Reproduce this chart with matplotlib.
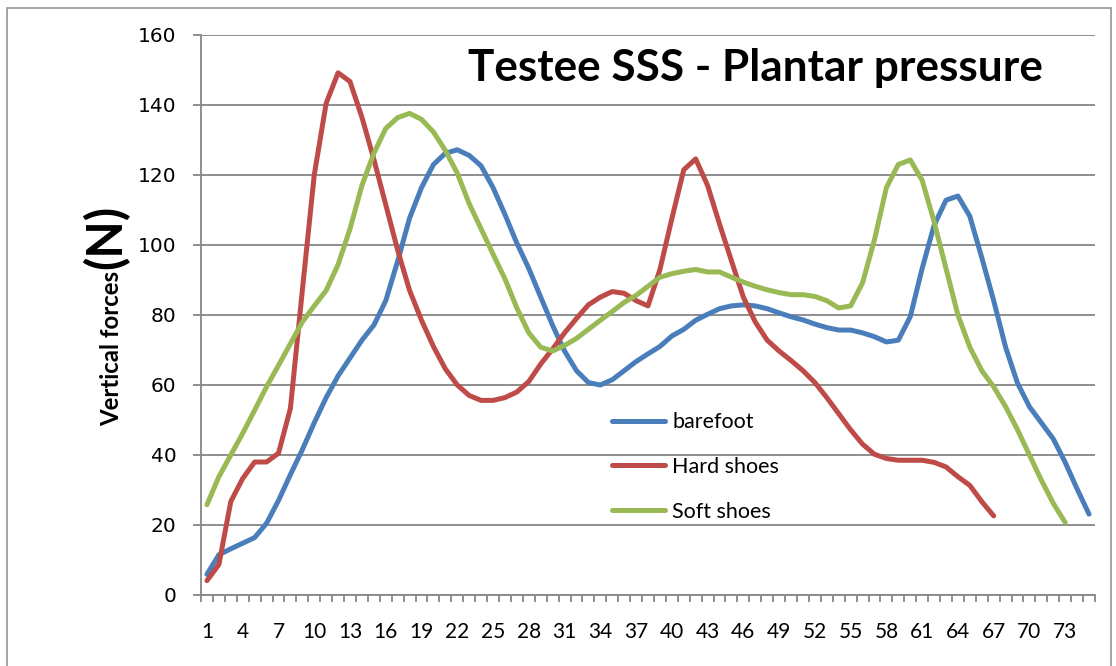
import matplotlib
matplotlib.use("Agg")
import matplotlib.pyplot as plt
from matplotlib.ticker import FixedLocator, NullFormatter
from matplotlib.patches import Rectangle

# ---------------- data ----------------
barefoot = [5.9, 11.5, 13.2, 14.8, 16.4, 20.5, 27, 34.4, 41.5, 49.2,
            56.4, 62.6, 67.7, 72.8, 77.1, 84.1, 95.4, 107.7, 116.4, 123,
            126.2, 127.2, 125.6, 122.6, 116.4, 108.7, 100.5, 93.3, 85.1, 77,
            69.7, 64.1, 60.7, 60, 61.5, 64.1, 66.7, 68.9, 71, 74,
            75.9, 78.5, 80.2, 81.8, 82.6, 82.9, 82.6, 81.8, 80.6, 79.5,
            78.6, 77.4, 76.4, 75.7, 75.7, 74.9, 73.8, 72.3, 72.8, 79.5,
            93.3, 105.6, 112.8, 114, 108.2, 96.4, 84.1, 70.8, 60.5, 53.8,
            49.2, 44.6, 37.9, 30.3, 23.1]
hard_shoes = [4.1, 8.7, 26.7, 33.3, 38, 38, 40.5, 53.3, 87, 120,
              140.5, 149.2, 146.7, 136.5, 124.5, 111.5, 98.5, 87, 78.5, 71,
              64.6, 60, 57, 55.6, 55.6, 56.4, 58, 61, 66, 70.3,
              74.9, 79, 82.9, 85.1, 86.7, 86.2, 84.1, 82.6, 93, 107.5,
              121.5, 124.6, 117, 106, 95.5, 85.1, 78, 72.8, 69.7, 67,
              64.1, 60.7, 56.4, 51.8, 47.2, 43.1, 40.2, 39, 38.5, 38.5,
              38.5, 37.9, 36.6, 33.8, 31.3, 26.7, 22.6]
soft_shoes = [25.8, 33.8, 40, 46.2, 52.8, 59.5, 65.6, 71.8, 78, 82.6,
              87, 94.4, 104.6, 117, 126.2, 133.3, 136.4, 137.6, 135.9, 132.3,
              127, 120.5, 111.8, 104.6, 97.4, 90.3, 82, 74.9, 70.8, 69.7,
              71.3, 73.3, 75.9, 78.5, 81, 83.6, 85.6, 88.2, 90.8, 91.8,
              92.5, 93, 92.3, 92.3, 90.8, 89.4, 88.2, 87.2, 86.4, 85.8,
              85.8, 85.3, 84.1, 82, 82.6, 89.2, 101.5, 116.4, 123, 124.3,
              118.5, 106.7, 93.3, 80, 70.8, 64.1, 59.5, 53.8, 47.2, 40,
              32.8, 26.2, 20.7]
series_names = ["barefoot", "Hard shoes", "Soft shoes"]
n_categories = 75
x_tick_labels = [str(v) for v in range(1, 74, 3)]
y_ticks = [0, 20, 40, 60, 80, 100, 120, 140, 160]
title_text = "Testee SSS - Plantar pressure"
ylabel_main = "Vertical forces"
ylabel_unit = "(N)"

# ---------------- style ----------------
W, H = 1116, 666
DPI = 100
colors = ["#4A7EBB", "#BE4B48", "#98B954"]
grid_c = "#868686"
CAL = ["Lato", "DejaVu Sans"]

fig = plt.figure(figsize=(W / DPI, H / DPI), dpi=DPI)
fig.patch.set_facecolor("white")

def px2fig(x, y):
    return x / W, 1 - y / H

# outer chart-area border
fig.patches.append(Rectangle(px2fig(7, 700), (1111 - 7) / W, (700 - 8) / H,
                             transform=fig.transFigure, fill=False,
                             edgecolor="#8c8c8c", linewidth=1.1, zorder=0))

l, r, t, b = 201, 1095, 35, 595
ax = fig.add_axes([l / W, 1 - b / H, (r - l) / W, (b - t) / H])

for vals, name, c in zip([barefoot, hard_shoes, soft_shoes], series_names, colors):
    xs = list(range(1, len(vals) + 1))
    ax.plot(xs, vals, color=c, lw=3.6, label=name,
            solid_capstyle="round", solid_joinstyle="round", zorder=3)

ax.set_xlim(0.5, n_categories + 0.5)
ax.set_ylim(0, 160)

for s in ["top", "right"]:
    ax.spines[s].set_visible(False)
for s in ["left", "bottom"]:
    ax.spines[s].set_color(grid_c)
    ax.spines[s].set_linewidth(1.3)

ax.set_yticks(y_ticks)
ax.yaxis.grid(True, color=grid_c, lw=1.3)
ax.set_axisbelow(True)
ax.tick_params(axis="y", direction="out", length=5.8, width=1.3, color=grid_c,
               pad=12, labelsize=14.5, labelcolor="black")

major_x = list(range(1, 74, 3))
ax.set_xticks(major_x)
ax.set_xticklabels(x_tick_labels)
ax.xaxis.set_minor_locator(FixedLocator([k + 0.5 for k in range(0, n_categories + 1)]))
ax.xaxis.set_minor_formatter(NullFormatter())
ax.tick_params(axis="x", which="major", length=0, pad=19.5, labelsize=15)
ax.tick_params(axis="x", which="minor", direction="out", length=5, width=1.3, color=grid_c)
for lab in ax.get_xticklabels():
    lab.set_family(CAL)

# title
fig.text(755 / W, 1 - 81 / H, title_text, ha="center", va="baseline",
         fontsize=31.8, fontweight="bold", family=CAL)

# y label in two parts sharing a baseline
fig.text(119 / W, 1 - 348 / H, ylabel_main, rotation=90, rotation_mode="anchor",
         ha="center", va="baseline", fontsize=17.3, fontweight="bold", family=CAL)
fig.text(121 / W, 1 - 237 / H, ylabel_unit, rotation=90, rotation_mode="anchor",
         ha="center", va="baseline", fontsize=35, fontweight="bold", family=CAL)

# legend
leg = ax.legend(loc="center left", bbox_to_anchor=px2fig(612, 467),
                bbox_transform=fig.transFigure, frameon=False,
                borderpad=0, borderaxespad=0, handlelength=2.46,
                handletextpad=0.35, labelspacing=1.15,
                prop={"family": CAL, "size": 15.5})
for h in leg.get_lines():
    h.set_linewidth(3.6)
    h.set_solid_capstyle("round")

fig.savefig("out.png", dpi=DPI, facecolor="white")
